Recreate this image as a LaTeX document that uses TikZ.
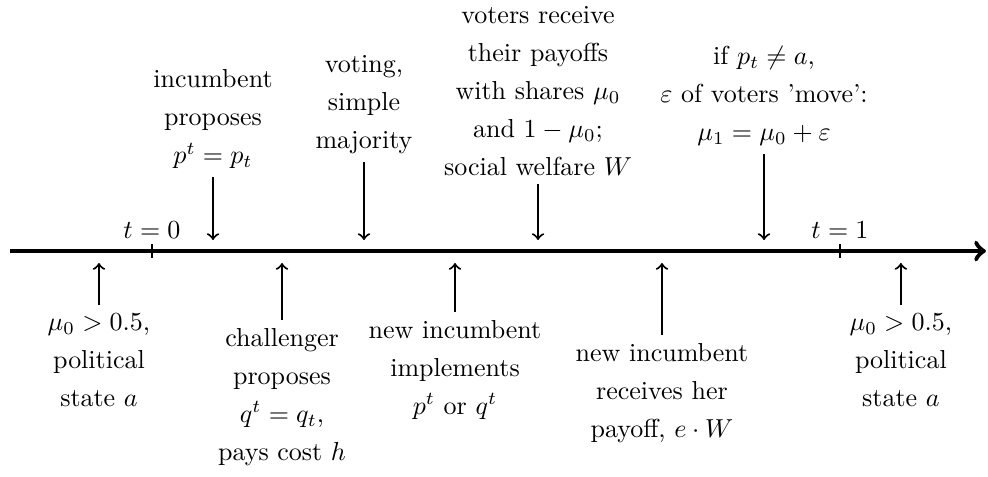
\documentclass[tikz,border=0pt]{standalone}
\usepackage{tikz}
\usetikzlibrary{arrows}

\begin{document}
\begin{tikzpicture}[evt/.style={align=center,inner sep=3pt,font=\fontsize{10}{14.6}\selectfont},
   evarrow/.style={->,thick}]
   \useasboundingbox (0,-3.042) rectangle (13.358,3.394);

   \draw[line width=1.8pt,->] (0.135,0) -- (13.33,0);
   \draw (2.055,-0.095) -- (2.055,0.095);
   \draw (11.357,-0.095) -- (11.357,0.095);
     \draw (2.055,0.095) node[above,inner sep=2pt] (t0) {$t=0$};
     \draw (11.357,0.095) node[above,inner sep=2pt] (t1) {$t=1$};

   \draw (2.880,1.000) node[evt,anchor=south] (propose) {incumbent\\proposes\\$p^t=p_t$};
   \draw (4.921,1.203) node[evt,anchor=south] (vote) {voting,\\simple\\majority};
   \draw (7.274,0.906) node[evt,anchor=south] (payoff) {voters receive\\their payoffs\\with shares $\mu_0$\\and $1-\mu_0$;\\social welfare $W$};
   \draw (10.33,1.311) node[evt,anchor=south] (move) {if $p_t\neq a$,\\$\varepsilon$ of voters 'move':\\$\mu_1=\mu_0+\varepsilon$};

   \draw (1.338,-0.730) node[evt,anchor=north] (state0) {$\mu_0>0.5$,\\political\\state $a$};
   \draw (3.813,-0.933) node[evt,anchor=north] (challenge) {challenger\\proposes\\$q^t=q_t$,\\pays cost $h$};
   \draw (6.152,-0.825) node[evt,anchor=north] (implement) {new incumbent\\implements\\$p^t$ or $q^t$};
   \draw (8.950,-1.136) node[evt,anchor=north] (herpay) {new incumbent\\receives her\\payoff, $e\cdot W$};
   \draw (12.18,-0.730) node[evt,anchor=north] (state1) {$\mu_0>0.5$,\\political\\state $a$};

   \coordinate (propose-t) at (2.880,0.149);
   \coordinate (vote-t) at (4.921,0.149);
   \coordinate (payoff-t) at (7.274,0.149);
   \coordinate (move-t) at (10.33,0.149);
   \coordinate (state0-t) at (1.338,-0.162);
   \coordinate (challenge-t) at (3.813,-0.162);
   \coordinate (implement-t) at (6.152,-0.162);
   \coordinate (herpay-t) at (8.950,-0.162);
   \coordinate (state1-t) at (12.18,-0.162);

   \foreach \ev in {propose,vote,payoff,move,state0,challenge,implement,herpay,state1}
      \path[evarrow] (\ev) edge (\ev-t);

\end{tikzpicture}
\end{document}
